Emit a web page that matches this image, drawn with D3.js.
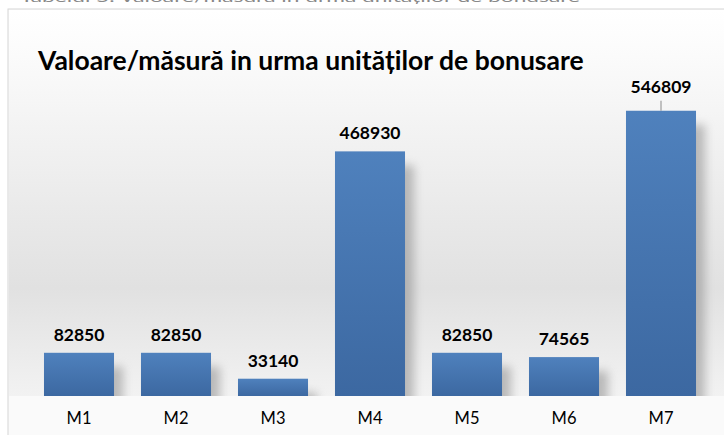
<!DOCTYPE html>
<html>
<head>
<meta charset="utf-8">
<script src="https://cdn.jsdelivr.net/npm/d3@7"></script>
<style>
  html, body { margin: 0; padding: 0; background: #fff; }
  svg { display: block; }
</style>
</head>
<body>
<svg id="chart"></svg>
<script>
const width = 724;
const height = 435;

// Date
const categories = ["M1", "M2", "M3", "M4", "M5", "M6", "M7"];
const values = [82850, 82850, 33140, 468930, 82850, 74565, 546809];
const title = "Valoare/măsură in urma unităților de bonusare";

const baseY = 396;

const svg = d3.select("#chart")
    .attr("width", width)
    .attr("height", height);

const defs = svg.append("defs");

// fundal perete
const wallGrad = defs.append("linearGradient")
    .attr("id", "wall").attr("x1", 0).attr("y1", 0).attr("x2", 0).attr("y2", 1);
wallGrad.append("stop").attr("offset", "0%").attr("stop-color", "#ffffff");
wallGrad.append("stop").attr("offset", "12%").attr("stop-color", "#fbfbfb");
wallGrad.append("stop").attr("offset", "72%").attr("stop-color", "#e1e1e1");
wallGrad.append("stop").attr("offset", "100%").attr("stop-color", "#f2f2f2");

// culoare bare
const barGrad = defs.append("linearGradient")
    .attr("id", "bar").attr("x1", 0).attr("y1", 0).attr("x2", 0).attr("y2", 1);
barGrad.append("stop").attr("offset", "0%").attr("stop-color", "#4f81bd");
barGrad.append("stop").attr("offset", "100%").attr("stop-color", "#3c68a1");

// umbra
const blur = defs.append("filter").attr("id", "blur")
    .attr("x", "-50%").attr("y", "-50%").attr("width", "200%").attr("height", "200%");
blur.append("feGaussianBlur").attr("stdDeviation", 5);

defs.append("clipPath").attr("id", "wallClip")
    .append("rect").attr("x", 9).attr("y", 10).attr("width", width).attr("height", baseY - 10);

// text tăiat sus
svg.append("text")
    .attr("x", 20)
    .attr("y", 2)
    .attr("textLength", 560)
    .attr("lengthAdjust", "spacingAndGlyphs")
    .style("font-family", "Lato, sans-serif")
    .style("font-size", "14px")
    .style("fill", "#888")
    .text("Tabelul 5. Valoare/măsură in urma unităților de bonusare");

// cadru
svg.append("rect")
    .attr("x", 8).attr("y", 9)
    .attr("width", width).attr("height", height)
    .attr("fill", "#fafafa")
    .attr("stroke", "#d6d6d6");

svg.append("rect")
    .attr("x", 9).attr("y", 10)
    .attr("width", width).attr("height", baseY - 10)
    .attr("fill", "url(#wall)");

const x = d3.scaleBand()
    .domain(categories)
    .range([30.5, 709.5])
    .paddingInner(0.278)
    .paddingOuter(0.139);

const y = d3.scaleLinear()
    .domain([0, 600000])
    .range([baseY, 83]);

const data = categories.map((c, i) => ({ cat: c, value: values[i] }));

// umbre
svg.append("g")
    .attr("clip-path", "url(#wallClip)")
    .selectAll("rect")
    .data(data)
    .enter().append("rect")
    .attr("x", d => x(d.cat) + 9)
    .attr("y", d => y(d.value) + 14)
    .attr("width", x.bandwidth())
    .attr("height", d => baseY - y(d.value))
    .attr("fill", "#8c8c8c")
    .attr("opacity", 0.55)
    .attr("filter", "url(#blur)");

// bare
svg.append("g")
    .selectAll("rect")
    .data(data)
    .enter().append("rect")
    .attr("x", d => x(d.cat))
    .attr("y", d => y(d.value))
    .attr("width", x.bandwidth())
    .attr("height", d => baseY - y(d.value))
    .attr("fill", "url(#bar)");

// etichete valori
const last = categories[categories.length - 1];
svg.append("g")
    .selectAll("text")
    .data(data)
    .enter().append("text")
    .attr("x", d => x(d.cat) + x.bandwidth() / 2)
    .attr("y", d => y(d.value) - (d.cat === last ? 18 : 12))
    .attr("text-anchor", "middle")
    .style("font-family", "Lato, sans-serif")
    .style("font-weight", "bold")
    .style("font-size", "17.5px")
    .style("fill", "#000")
    .text(d => d.value);

// linie de legătură M7
svg.append("line")
    .attr("x1", x(last) + x.bandwidth() / 2)
    .attr("x2", x(last) + x.bandwidth() / 2)
    .attr("y1", y(values[values.length - 1]) - 10)
    .attr("y2", y(values[values.length - 1]))
    .attr("stroke", "#8a8a8a")
    .attr("stroke-width", 1);

// axa X
const xAxis = svg.append("g")
    .attr("transform", `translate(0, ${baseY})`)
    .call(d3.axisBottom(x).tickSize(0).tickPadding(16));
xAxis.select(".domain").remove();
xAxis.selectAll("text")
    .style("font-family", "Lato, sans-serif")
    .style("font-size", "16.5px")
    .style("fill", "#000");

// titlu
svg.append("text")
    .attr("x", 38)
    .attr("y", 70)
    .style("font-family", "Lato, sans-serif")
    .style("font-weight", "bold")
    .style("font-size", "26.5px")
    .style("fill", "#000")
    .text(title);
</script>
</body>
</html>
